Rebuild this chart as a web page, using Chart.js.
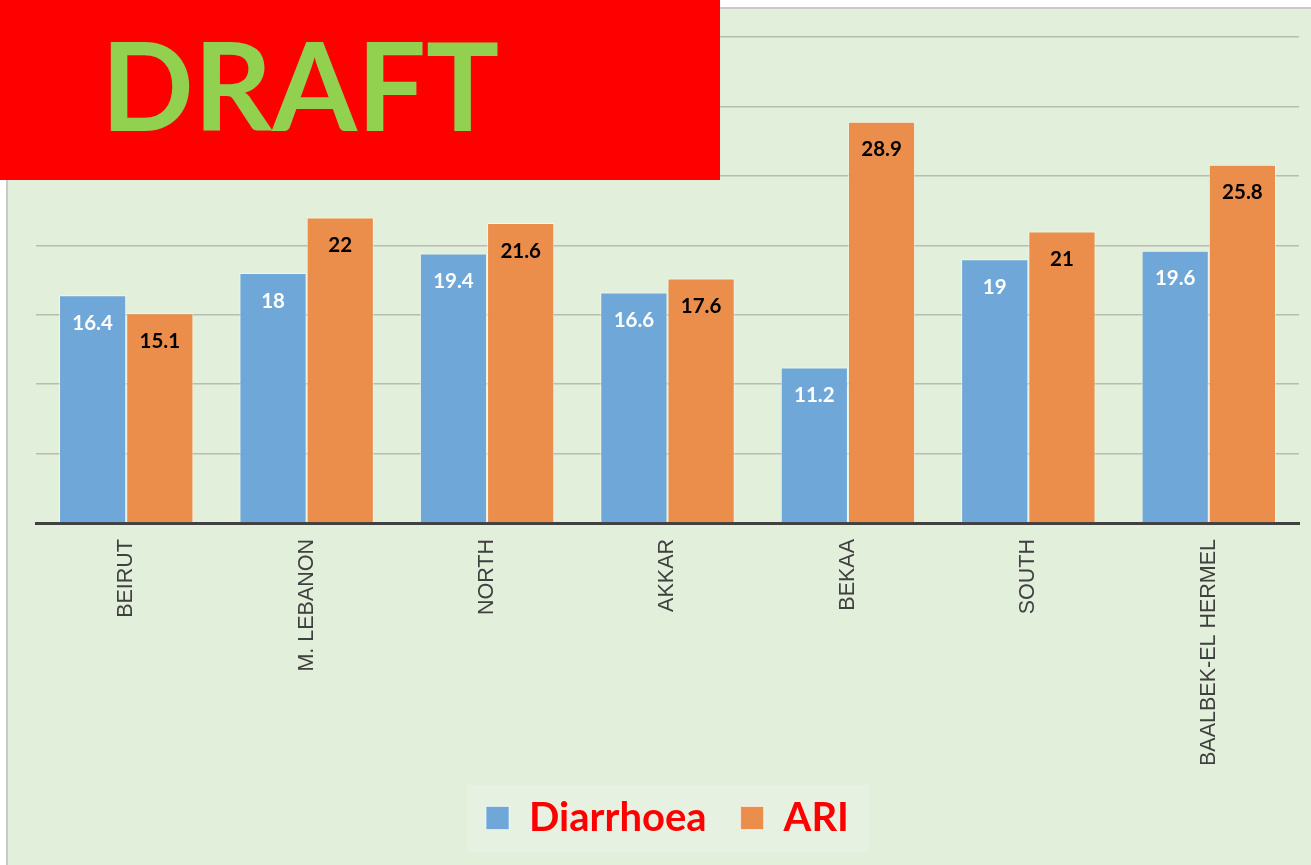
<!DOCTYPE html>
<html>
<head>
<meta charset="utf-8">
<script src="https://cdn.jsdelivr.net/npm/chart.js@4.4.1/dist/chart.umd.min.js"></script>
<style>
    html, body { margin: 0; padding: 0; background: #ffffff; }
    body { width: 1311px; height: 865px; position: relative; overflow: hidden; }
    #panel {
        position: absolute; left: 6px; top: 7px; width: 1305px; height: 858px;
        background: #e2efda; border-left: 2px solid #c9c9c9; border-top: 2px solid #c9c9c9;
        box-sizing: border-box;
    }
    #panel canvas { position: absolute; left: 0; top: 0; }
    #draft {
        position: absolute; left: 0; top: 0; width: 720px; height: 180px;
        background: #ff0000; z-index: 5;
    }
    #draft span {
        position: absolute; left: 101px; top: 23px;
        font-family: Lato, sans-serif; font-weight: bold; font-size: 122px;
        color: #92d050; line-height: 1;
    }
</style>
</head>
<body>
<div id="draft"><span>DRAFT</span></div>
<div id="panel"><canvas id="chartMain" width="1303" height="856"></canvas></div>
<script>
// Data
const regions = ['BEIRUT', 'M. LEBANON', 'NORTH', 'AKKAR', 'BEKAA', 'SOUTH', 'BAALBEK-EL HERMEL'];
const diarrhoea = [16.4, 18, 19.4, 16.6, 11.2, 19, 19.6];
const ari = [15.1, 22, 21.6, 17.6, 28.9, 21, 25.8];
const seriesNames = ['Diarrhoea', 'ARI'];
const yMax = 35;
const yStep = 5;

/* label nilai di dalam batang */
const valueLabels = {
    id: 'valueLabels',
    afterDatasetsDraw(chart) {
        const ctx = chart.ctx;
        ctx.save();
        ctx.font = 'bold 20.5px Lato, sans-serif';
        ctx.textAlign = 'center';
        ctx.textBaseline = 'middle';
        chart.data.datasets.forEach(function (ds, i) {
            ctx.fillStyle = i === 0 ? '#ffffff' : '#000000';
            chart.getDatasetMeta(i).data.forEach(function (bar, j) {
                ctx.fillText(String(ds.data[j]), bar.x, bar.y + 28);
            });
        });
        ctx.restore();
    }
};

/* kotak latar legend */
const legendBg = {
    id: 'legendBg',
    beforeDraw(chart) {
        const boxes = chart.legend && chart.legend.legendHitBoxes;
        if (!boxes || !boxes.length) return;
        let l = Infinity, r = -Infinity, t = Infinity, b = -Infinity;
        boxes.forEach(function (h) {
            l = Math.min(l, h.left); r = Math.max(r, h.left + h.width);
            t = Math.min(t, h.top); b = Math.max(b, h.top + h.height);
        });
        const ctx = chart.ctx;
        ctx.save();
        ctx.fillStyle = '#e7f1e1';
        ctx.fillRect(l - 19, t - 13, (r - l) + 39, (b - t) + 27);
        ctx.restore();
    }
};

new Chart(document.getElementById('chartMain'), {
    type: 'bar',
    data: {
        labels: regions,
        datasets: [{
            label: seriesNames[0],
            data: diarrhoea,
            backgroundColor: '#6fa8d8',
            borderColor: 'rgba(255,255,255,0.55)',
            borderWidth: 1
        }, {
            label: seriesNames[1],
            data: ari,
            backgroundColor: '#eb8d4b',
            borderColor: 'rgba(255,255,255,0.55)',
            borderWidth: 1
        }]
    },
    options: {
        responsive: false,
        animation: false,
        devicePixelRatio: 1,
        layout: { padding: { left: 28, right: 12, top: 28, bottom: 17 } },
        datasets: { bar: { categoryPercentage: 0.745, barPercentage: 1 } },
        plugins: {
            tooltip: { enabled: false },
            legend: {
                position: 'bottom',
                labels: {
                    boxWidth: 23,
                    boxHeight: 23,
                    padding: 34,
                    color: '#ff0000',
                    font: { family: 'Lato, sans-serif', size: 40, weight: 'bold' }
                }
            }
        },
        scales: {
            x: {
                grid: { display: false, drawTicks: false },
                border: { display: true, color: '#404040', width: 3 },
                ticks: {
                    color: '#404040',
                    font: { family: '"Liberation Sans", Arial, sans-serif', size: 21.5 },
                    minRotation: 90,
                    maxRotation: 90,
                    padding: 16
                },
                afterFit(scale) { scale.height = 241; }
            },
            y: {
                min: 0,
                max: yMax,
                ticks: { display: false, stepSize: yStep },
                grid: { color: '#b7bdb0', lineWidth: 1.5, drawTicks: false },
                border: { display: false }
            }
        }
    },
    plugins: [valueLabels, legendBg]
});
</script>
</body>
</html>
